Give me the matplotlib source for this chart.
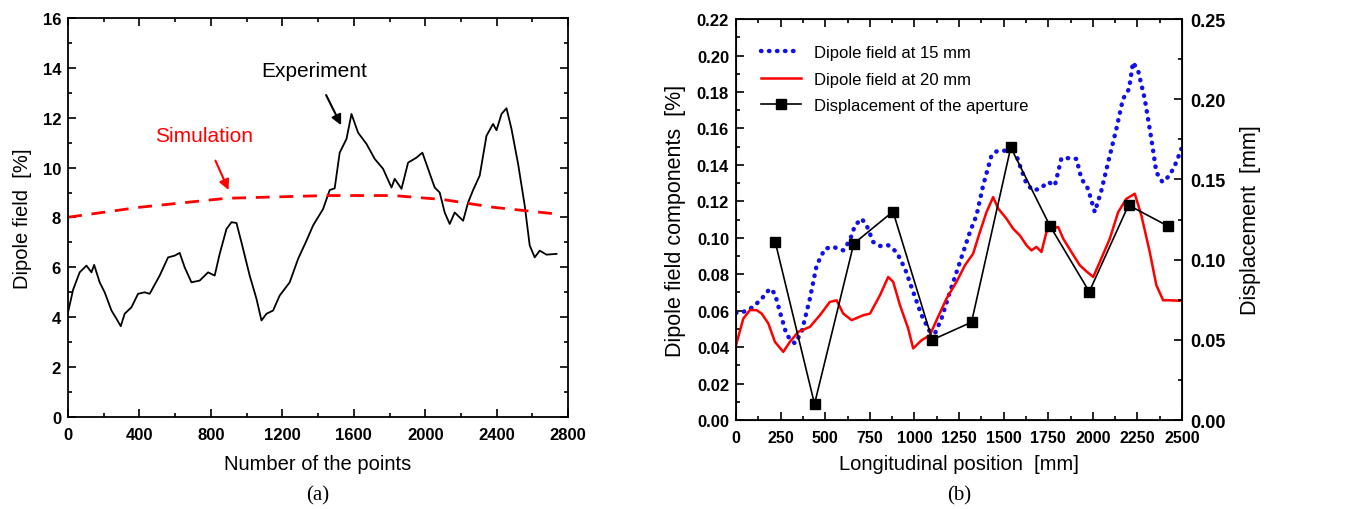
import matplotlib.pyplot as plt
from matplotlib.ticker import MultipleLocator

plt.rcParams['font.family'] = ['Liberation Sans', 'DejaVu Sans']

# (a) Experiment vs simulation
exp_x = [0, 28, 65, 103, 131, 146, 177, 205, 243, 271, 295, 317, 355, 392, 429, 457,
         513, 560, 597, 625, 653, 691, 737, 784, 821, 849, 887, 915, 943, 971, 1017,
         1055, 1083, 1111, 1148, 1185, 1241, 1288, 1335, 1372, 1428, 1465, 1493, 1521,
         1559, 1587, 1624, 1671, 1717, 1764, 1811, 1829, 1867, 1904, 1951, 1984, 2016,
         2053, 2081, 2109, 2137, 2165, 2212, 2240, 2268, 2305, 2343, 2380, 2399, 2427,
         2455, 2483, 2520, 2557, 2585, 2613, 2641, 2679, 2735]
exp_y = [4.2, 5.1, 5.8, 6.07, 5.8, 6.1, 5.4, 5.0, 4.27, 3.94, 3.64, 4.14, 4.4, 4.94, 5.0, 4.94,
         5.67, 6.4, 6.47, 6.58, 6.0, 5.4, 5.47, 5.8, 5.67, 6.54, 7.54, 7.81, 7.78, 7.0, 5.67,
         4.74, 3.87, 4.14, 4.27, 4.87, 5.4, 6.34, 7.07, 7.68, 8.34, 9.1, 9.17, 10.6,
         11.15, 12.15, 11.4, 10.95, 10.35, 9.95, 9.2, 9.55, 9.15, 10.2, 10.4, 10.6, 9.95,
         9.2, 9.0, 8.2, 7.74, 8.2, 7.87, 8.6, 9.1, 9.68, 11.28, 11.75, 11.5, 12.15,
         12.38, 11.55, 10.15, 8.48, 6.88, 6.4, 6.67, 6.51, 6.54]
sim_x = [0, 401, 887, 1447, 1820, 2100, 2380, 2735]
sim_y = [8.01, 8.41, 8.77, 8.88, 8.88, 8.72, 8.41, 8.14]

# (b) Dipole field components and aperture displacement
d15_x = [0, 41, 97, 144, 190, 218, 246, 284, 330, 368, 414, 452, 498, 545, 601, 638, 667,
         704, 732, 769, 807, 853, 900, 947, 993, 1040, 1087, 1115, 1152, 1199, 1255, 1311,
         1348, 1385, 1432, 1460, 1516, 1553, 1591, 1628, 1665, 1703, 1750, 1787, 1824,
         1861, 1908, 1936, 1973, 2011, 2048, 2086, 2132, 2169, 2203, 2225, 2254, 2291,
         2328, 2356, 2390, 2431, 2468, 2496]
d15_y = [0.0588, 0.0593, 0.0621, 0.0666, 0.0721, 0.0694, 0.0593, 0.0466, 0.042, 0.0484,
         0.0666, 0.0849, 0.094, 0.095, 0.0931, 0.0986, 0.1068, 0.1105, 0.1068, 0.0977,
         0.0955, 0.0959, 0.0922, 0.0831, 0.0703, 0.0575, 0.0484, 0.0475, 0.0557, 0.0703,
         0.0867, 0.1032, 0.1123, 0.1287, 0.1452, 0.1474, 0.1479, 0.1506, 0.1397, 0.1296,
         0.126, 0.1269, 0.1306, 0.1287, 0.1437, 0.1437, 0.1433, 0.1324, 0.1269, 0.1141,
         0.126, 0.1415, 0.1598, 0.1762, 0.1817, 0.1963, 0.1917, 0.1762, 0.1543, 0.136,
         0.1306, 0.1342, 0.1415, 0.1488]
d20_x = [0, 41, 78, 115, 144, 181, 218, 265, 302, 349, 414, 470, 526, 564, 601, 648, 713,
         751, 807, 853, 881, 919, 965, 993, 1040, 1087, 1124, 1180, 1236, 1283, 1329, 1367,
         1404, 1441, 1470, 1516, 1553, 1591, 1628, 1656, 1684, 1712, 1740, 1768, 1806,
         1834, 1880, 1927, 1964, 2002, 2039, 2095, 2142, 2188, 2235, 2272, 2319, 2356,
         2394, 2431, 2496]
d20_y = [0.0411, 0.0557, 0.0603, 0.0603, 0.0584, 0.053, 0.0429, 0.0374, 0.0429, 0.0484,
         0.0511, 0.0575, 0.0648, 0.0657, 0.0584, 0.0548, 0.0575, 0.0584, 0.0685, 0.0785,
         0.0758, 0.063, 0.0502, 0.0393, 0.0438, 0.0466, 0.0548, 0.0667, 0.0758, 0.0849,
         0.0913, 0.1032, 0.1141, 0.1223, 0.116, 0.1105, 0.105, 0.1013, 0.0959, 0.0931,
         0.095, 0.0922, 0.1032, 0.105, 0.1059, 0.0995, 0.0922, 0.0849, 0.0816, 0.0785,
         0.0867, 0.0995, 0.1141, 0.1214, 0.1242, 0.1123, 0.0922, 0.074, 0.0657, 0.0657,
         0.0654]
disp_x = [220, 440, 660, 880, 1100, 1320, 1540, 1760, 1980, 2200, 2420]
disp_y = [0.111, 0.010, 0.110, 0.130, 0.050, 0.061, 0.170, 0.121, 0.080, 0.134, 0.121]

fig = plt.figure(figsize=(13.64, 5.1), dpi=100)


def style_ticks(ax, xsize, ysize):
    ax.tick_params(which='both', direction='in', top=True, width=1.2)
    ax.tick_params(which='major', length=6)
    ax.tick_params(which='minor', length=3)
    ax.tick_params(axis='x', labelsize=xsize, pad=7)
    ax.tick_params(axis='y', labelsize=ysize, pad=5)
    for lab in ax.get_xticklabels() + ax.get_yticklabels():
        lab.set_fontweight('bold')
    for s in ax.spines.values():
        s.set_linewidth(1.3)


# ---- panel (a)
ax1 = fig.add_axes([0.0499, 0.1804, 0.3666, 0.7824])
ax1.plot(exp_x, exp_y, color='black', lw=1.3)
ax1.plot(sim_x, sim_y, color='red', lw=2, linestyle=(0, (5, 3.5)))
ax1.set_xlim(0, 2800)
ax1.set_ylim(0, 16)
ax1.xaxis.set_major_locator(MultipleLocator(400))
ax1.xaxis.set_minor_locator(MultipleLocator(200))
ax1.yaxis.set_major_locator(MultipleLocator(2))
ax1.yaxis.set_minor_locator(MultipleLocator(1))
ax1.tick_params(which='both', right=True)
style_ticks(ax1, 12, 12)
ax1.set_xlabel('Number of the points', fontsize=14.5, labelpad=9)
ax1.set_ylabel('Dipole field  [%]', fontsize=14.5, labelpad=8)
ax1.annotate('Experiment', xy=(1536, 11.6), xytext=(1376, 13.9), fontsize=15,
             ha='center', va='center',
             arrowprops=dict(arrowstyle='-|>', color='black', lw=1.5, shrinkA=10))
ax1.annotate('Simulation', xy=(905, 9.0), xytext=(763, 11.28), fontsize=15,
             color='red', ha='center', va='center',
             arrowprops=dict(arrowstyle='-|>', color='red', lw=1.5, shrinkA=10))
fig.text(0.2332, 0.018, '(a)', fontsize=15, family='Liberation Serif', ha='center')

# ---- panel (b)
ax2 = fig.add_axes([0.5396, 0.1745, 0.327, 0.786])
ax2.plot(d15_x, d15_y, color='#1010ee', lw=3.2, linestyle=(0, (0.1, 1.7)),
         dash_capstyle='round', label='Dipole field at 15 mm')
ax2.plot(d20_x, d20_y, color='red', lw=1.8, label='Dipole field at 20 mm')
ax2.plot([], [], color='black', lw=1.2, marker='s', ms=7,
         label='Displacement of the aperture')
ax2.set_xlim(0, 2500)
ax2.set_ylim(0, 0.22)
ax2.xaxis.set_major_locator(MultipleLocator(250))
ax2.xaxis.set_minor_locator(MultipleLocator(125))
ax2.yaxis.set_major_locator(MultipleLocator(0.02))
ax2.yaxis.set_minor_locator(MultipleLocator(0.01))
ax2.yaxis.set_major_formatter('{x:.2f}')
style_ticks(ax2, 11.5, 12)
ax2.set_xlabel('Longitudinal position  [mm]', fontsize=14.5, labelpad=7)
ax2.set_ylabel('Dipole field components  [%]', fontsize=15.5, labelpad=8)
ax2.legend(loc='upper left', frameon=False, fontsize=12, handlelength=2.4,
           borderaxespad=0.3, labelspacing=0.7, bbox_to_anchor=(0.03, 0.965))

ax3 = ax2.twinx()
ax3.plot(disp_x, disp_y, color='black', lw=1.2, marker='s', ms=7)
ax3.set_ylim(0, 0.25)
ax3.yaxis.set_major_locator(MultipleLocator(0.05))
ax3.yaxis.set_minor_locator(MultipleLocator(0.025))
ax3.yaxis.set_major_formatter('{x:.2f}')
ax3.tick_params(which='both', direction='in', width=1.2)
ax3.tick_params(which='major', length=6, labelsize=13, pad=6)
ax3.tick_params(which='minor', length=3)
for lab in ax3.get_yticklabels():
    lab.set_fontweight('bold')
ax3.set_ylabel('Displacement  [mm]', fontsize=15.5, labelpad=10)
fig.text(0.7031, 0.018, '(b)', fontsize=15, family='Liberation Serif', ha='center')

fig.savefig('out.png', dpi=100)
